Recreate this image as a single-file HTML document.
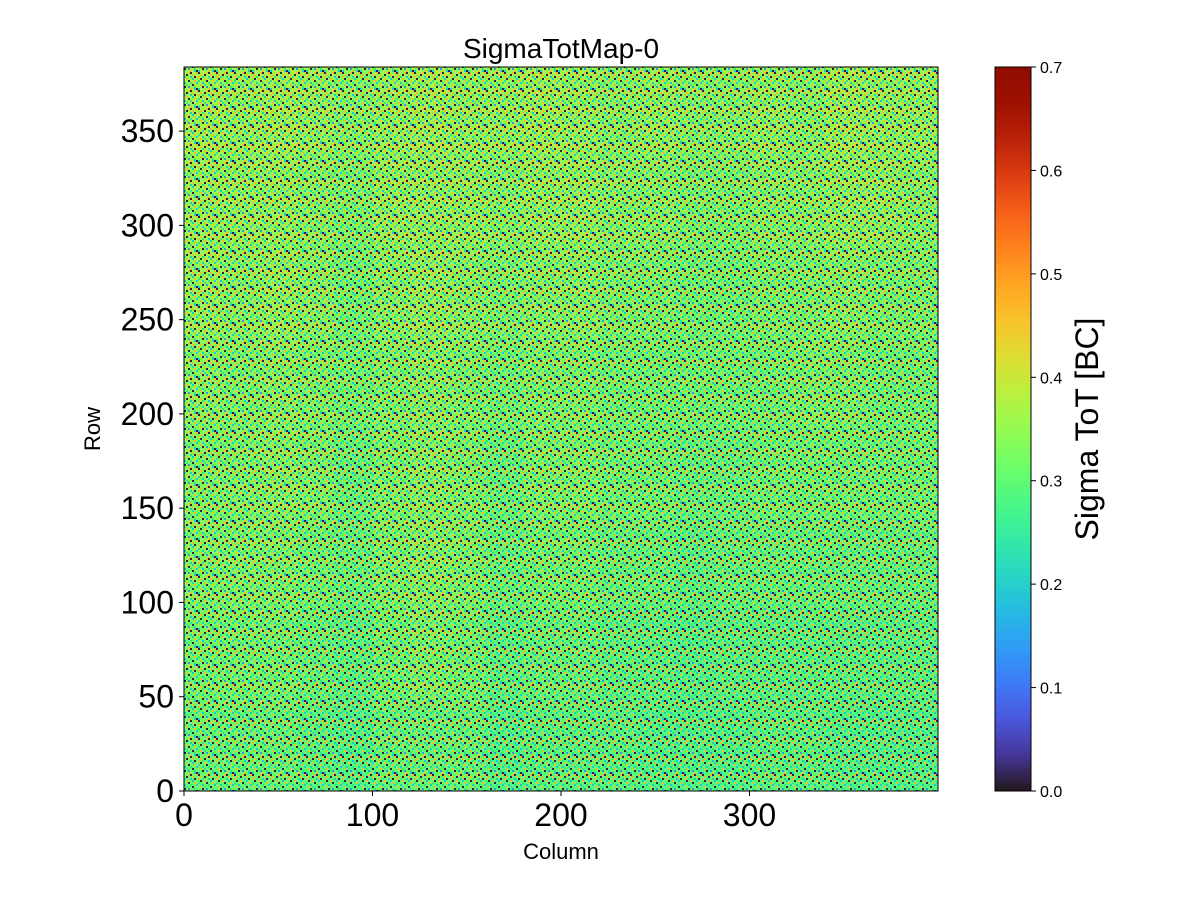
<!DOCTYPE html>
<html><head><meta charset="utf-8"><style>
body{margin:0;background:#fff;}
svg{font-family:"Liberation Sans","DejaVu Sans",sans-serif;}
</style></head><body>
<svg id="chart" width="1200" height="900" viewBox="0 0 1200 900">
<defs>
<pattern id="speckle" width="18" height="18" patternUnits="userSpaceOnUse">
<rect x="0" y="0" width="2" height="2" fill="#30123b"/>
<rect x="6" y="2" width="2" height="2" fill="#30123b"/>
<rect x="2" y="6" width="2" height="2" fill="#30123b"/>
<rect x="8" y="8" width="2" height="2" fill="#30123b"/>
<rect x="14" y="4" width="2" height="2" fill="#30123b"/>
<rect x="12" y="12" width="2" height="2" fill="#30123b"/>
<rect x="4" y="14" width="2" height="2" fill="#30123b"/>
<rect x="16" y="16" width="2" height="2" fill="#30123b"/>
<rect x="10" y="0" width="2" height="2" fill="#30123b"/>
<rect x="4" y="10" width="2" height="2" fill="#1ac7d4"/>
<rect x="10" y="4" width="2" height="2" fill="#1ac7d4"/>
<rect x="16" y="10" width="2" height="2" fill="#1ac7d4"/>
<rect x="0" y="16" width="2" height="2" fill="#1ac7d4"/>
<rect x="8" y="14" width="2" height="2" fill="#3a8ee8"/>
<rect x="2" y="2" width="2" height="2" fill="#f7b733"/>
<rect x="8" y="0" width="2" height="2" fill="#f7b733"/>
<rect x="6" y="6" width="2" height="2" fill="#f7b733"/>
<rect x="14" y="8" width="2" height="2" fill="#f7b733"/>
<rect x="12" y="2" width="2" height="2" fill="#f7b733"/>
<rect x="2" y="12" width="2" height="2" fill="#f7b733"/>
<rect x="10" y="16" width="2" height="2" fill="#f7b733"/>
<rect x="16" y="0" width="2" height="2" fill="#f7b733"/>
<rect x="0" y="8" width="2" height="2" fill="#2ee68a"/>
<rect x="10" y="10" width="2" height="2" fill="#2ee68a"/>
<rect x="4" y="4" width="2" height="2" fill="#2ee68a"/>
<rect x="14" y="14" width="2" height="2" fill="#2ee68a"/>
<rect x="6" y="12" width="2" height="2" fill="#2ee68a"/>
<rect x="12" y="6" width="2" height="2" fill="#1ac7d4"/>
<rect x="0" y="4" width="2" height="2" fill="#f7b733"/>
<rect x="14" y="16" width="2" height="2" fill="#1ac7d4"/>
</pattern>
<linearGradient id="cbar" x1="0" y1="1" x2="0" y2="0"></linearGradient>
</defs>
<text x="561" y="58" font-size="28" text-anchor="middle">SigmaTotMap-0</text>
<g id="cells"></g>
<rect x="184" y="67" width="754" height="724" fill="url(#speckle)" opacity="0.95"/>
<rect x="184" y="67" width="754" height="724" fill="none" stroke="#000" stroke-width="1"/>
<g id="xticks"></g>
<g id="yticks"></g>
<text x="561" y="859" font-size="22" text-anchor="middle">Column</text>
<text transform="translate(100,429) rotate(-90)" font-size="22" text-anchor="middle">Row</text>
<rect x="995" y="67" width="36" height="724" fill="url(#cbar)" stroke="#000" stroke-width="1"/>
<g id="cticks"></g>
<text transform="translate(1098,429) rotate(-90)" font-size="32" text-anchor="middle">Sigma ToT [BC]</text>
</svg>
<script>
// data
const xTicks=[0,100,200,300];
const yTicks=[0,50,100,150,200,250,300,350];
const cTicks=[0.0,0.1,0.2,0.3,0.4,0.5,0.6,0.7];
const colBands=20, rowBands=8; // 20 columns each, 48 rows each (top row first)
const blockMeans=[
[0.36,0.35,0.36,0.35,0.34,0.35,0.36,0.35,0.35,0.36,0.35,0.34,0.35,0.34,0.34,0.35,0.34,0.36,0.35,0.35],
[0.35,0.35,0.35,0.34,0.33,0.35,0.35,0.35,0.34,0.35,0.35,0.34,0.34,0.33,0.33,0.34,0.34,0.35,0.35,0.34],
[0.35,0.34,0.35,0.34,0.32,0.34,0.35,0.34,0.33,0.34,0.34,0.33,0.33,0.32,0.32,0.33,0.33,0.34,0.33,0.33],
[0.34,0.33,0.34,0.33,0.32,0.33,0.34,0.33,0.32,0.33,0.33,0.32,0.32,0.32,0.32,0.32,0.33,0.33,0.32,0.32],
[0.33,0.33,0.34,0.33,0.31,0.33,0.34,0.33,0.31,0.33,0.33,0.32,0.32,0.31,0.31,0.32,0.32,0.32,0.32,0.32],
[0.33,0.33,0.33,0.32,0.31,0.33,0.34,0.33,0.31,0.32,0.32,0.31,0.31,0.30,0.31,0.31,0.31,0.31,0.31,0.31],
[0.32,0.32,0.32,0.31,0.30,0.32,0.33,0.32,0.30,0.31,0.31,0.30,0.30,0.29,0.30,0.30,0.30,0.30,0.30,0.30],
[0.31,0.31,0.31,0.30,0.29,0.31,0.31,0.31,0.29,0.30,0.30,0.30,0.29,0.29,0.29,0.30,0.30,0.29,0.29,0.29]
];
const vmin=0, vmax=0.7, nCols=400, nRows=384;
const PX=184, PY=67, PW=754, PH=724;
const xScale=c=>PX+c*PW/nCols;
const yScale=r=>PY+PH-r*PH/nRows;
const cScale=v=>PY+PH-(v-vmin)/(vmax-vmin)*PH;
function turbo(t){t=Math.max(0,Math.min(1,t));
const r=34.61+t*(1172.33-t*(10793.56-t*(33300.12-t*(38394.49-t*14825.05))));
const g=23.31+t*(557.33+t*(1225.33-t*(3574.96-t*(1073.77+t*707.56))));
const b=27.2+t*(3211.1-t*(15327.97-t*(27814-t*(22569.18-t*6838.66))));
const c=x=>Math.max(0,Math.min(255,Math.round(x)));return `rgb(${c(r)},${c(g)},${c(b)})`;}
const NS='http://www.w3.org/2000/svg';
const cells=document.getElementById('cells');
const cw=nCols/colBands, rh=nRows/rowBands;
blockMeans.forEach((row,i)=>row.forEach((v,j)=>{
 const r=document.createElementNS(NS,'rect');
 const c0=j*cw, rTop=nRows-i*rh;
 r.setAttribute('x',xScale(c0));r.setAttribute('y',yScale(rTop));
 r.setAttribute('width',xScale(c0+cw)-xScale(c0)+0.5);r.setAttribute('height',yScale(rTop-rh)-yScale(rTop)+0.5);
 r.setAttribute('fill',turbo((v-vmin)/(vmax-vmin)));
 
 
 cells.appendChild(r);}));
const gx=document.getElementById('xticks');
xTicks.forEach(t=>{const x=xScale(t);
 const l=document.createElementNS(NS,'line');l.setAttribute('x1',x);l.setAttribute('x2',x);l.setAttribute('y1',791);l.setAttribute('y2',796);l.setAttribute('stroke','#000');
 
 gx.appendChild(l);
 const tx=document.createElementNS(NS,'text');tx.setAttribute('x',x);tx.setAttribute('y',826);tx.setAttribute('font-size','32');tx.setAttribute('text-anchor','middle');tx.textContent=t;
 
 gx.appendChild(tx);});
const gy=document.getElementById('yticks');
yTicks.forEach(t=>{const y=yScale(t);
 const l=document.createElementNS(NS,'line');l.setAttribute('x1',179);l.setAttribute('x2',184);l.setAttribute('y1',y);l.setAttribute('y2',y);l.setAttribute('stroke','#000');
 
 gy.appendChild(l);
 const tx=document.createElementNS(NS,'text');tx.setAttribute('x',174);tx.setAttribute('y',y+11);tx.setAttribute('font-size','32');tx.setAttribute('text-anchor','end');tx.textContent=t;
 
 gy.appendChild(tx);});
const grad=document.getElementById('cbar');
for(let k=0;k<=20;k++){const s=document.createElementNS(NS,'stop');s.setAttribute('offset',k/20);s.setAttribute('stop-color',turbo(k/20));grad.appendChild(s);}
const gc=document.getElementById('cticks');
cTicks.forEach(t=>{const y=cScale(t);
 const l=document.createElementNS(NS,'line');l.setAttribute('x1',1031);l.setAttribute('x2',1036);l.setAttribute('y1',y);l.setAttribute('y2',y);l.setAttribute('stroke','#000');
 
 gc.appendChild(l);
 const tx=document.createElementNS(NS,'text');tx.setAttribute('x',1040);tx.setAttribute('y',y+6);tx.setAttribute('font-size','16');tx.textContent=t.toFixed(1);
 
 gc.appendChild(tx);});
</script>
</body></html>
